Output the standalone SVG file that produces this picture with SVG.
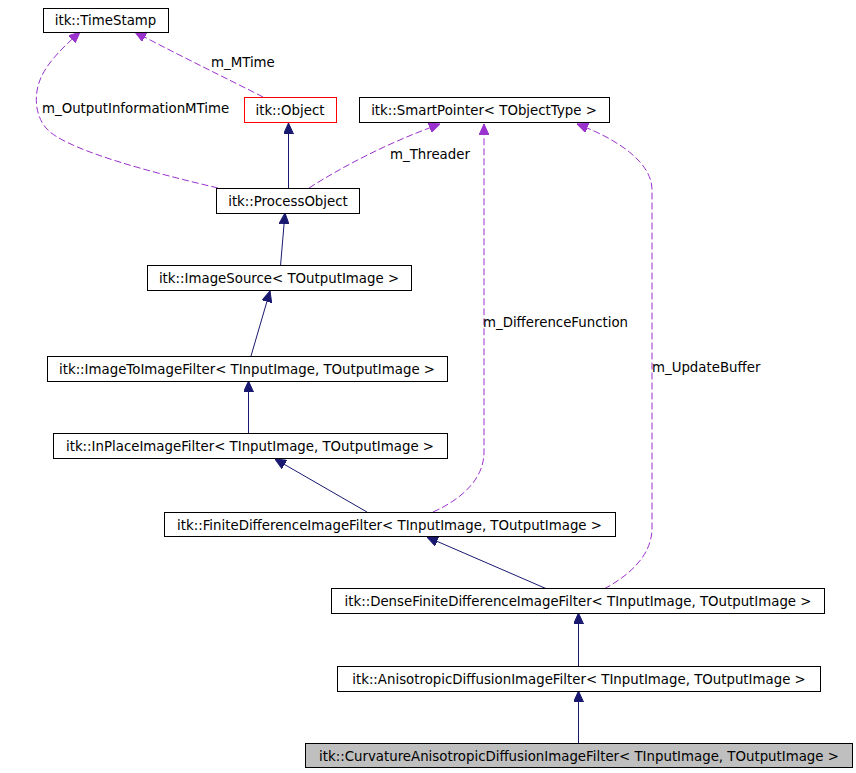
<svg xmlns="http://www.w3.org/2000/svg" width="856" height="773" viewBox="0 0 856 773">
<style>
.n rect{fill:#ffffff;stroke:#000000;stroke-width:1}
text{font-family:"DejaVu Sans","Liberation Sans",sans-serif;font-size:13.33px;fill:#000000}
.n text{text-anchor:middle}
.inh{fill:none;stroke:#191970;stroke-width:1;marker-end:url(#an)}
.use{fill:none;stroke:#9a32cd;stroke-width:1;stroke-dasharray:7,3;marker-end:url(#ap)}
</style>
<defs>
<marker id="an" markerUnits="userSpaceOnUse" markerWidth="11" markerHeight="10" refX="11" refY="5" orient="auto"><path d="M0,0 L11,5 L0,10 z" fill="#191970" stroke="#191970" stroke-width="1"/></marker>
<marker id="ap" markerUnits="userSpaceOnUse" markerWidth="11" markerHeight="10" refX="11" refY="5" orient="auto"><path d="M0,0 L11,5 L0,10 z" fill="#9a32cd" stroke="#9a32cd" stroke-width="1"/></marker>
</defs>
<rect width="856" height="773" fill="#ffffff"/>
<g id="connectors">
<path class="inh" d="M288.5,188 L288.5,123"/>
<path class="inh" d="M280.5,266 L285,213"/>
<path class="inh" d="M251,356 L270,291"/>
<path class="inh" d="M248.5,433 L248.5,381"/>
<path class="inh" d="M367,512 L275,459"/>
<path class="inh" d="M547,589 L427,537"/>
<path class="inh" d="M578.5,666 L578.5,613"/>
<path class="inh" d="M578.5,743 L578.5,691"/>
<path class="use" d="M263,97 C230,80 180,56 135,32"/>
<path class="use" d="M218,188 C150,172 75,152 50,132 C34,118 34,95 40,80 C46,64 62,48 80,32"/>
<path class="use" d="M309,188 C345,165 390,142 440,124"/>
<path class="use" d="M433,512 C460,500 484,480 484,452 L484,124"/>
<path class="use" d="M604,589 C630,575 652,555 652,528 L652,190 C652,160 612,137 577,124"/>
<text x="211" y="67">m_MTime</text>
<text x="42" y="113">m_OutputInformationMTime</text>
<text x="390" y="159">m_Threader</text>
<text x="483" y="327">m_DifferenceFunction</text>
<text x="652" y="372">m_UpdateBuffer</text>
</g>
<g id="TimeStamp" class="n"><rect x="43.5" y="8.5" width="125" height="24"/><text x="105.5" y="25">itk::TimeStamp</text></g>
<g id="Object" class="n"><rect x="244.5" y="97.5" width="92" height="25" style="stroke:#ff0000"/><text x="290" y="115">itk::Object</text></g>
<g id="SmartPointer" class="n"><rect x="359.5" y="97.5" width="250" height="25"/><text x="484" y="115">itk::SmartPointer&lt; TObjectType &gt;</text></g>
<g id="ProcessObject" class="n"><rect x="216.5" y="188.5" width="143" height="25"/><text x="288" y="205.5">itk::ProcessObject</text></g>
<g id="ImageSource" class="n"><rect x="147.5" y="265.5" width="264" height="25"/><text x="279" y="283">itk::ImageSource&lt; TOutputImage &gt;</text></g>
<g id="ImageToImageFilter" class="n"><rect x="47.5" y="356.5" width="400" height="25"/><text x="247" y="374">itk::ImageToImageFilter&lt; TInputImage, TOutputImage &gt;</text></g>
<g id="InPlaceImageFilter" class="n"><rect x="53.5" y="433.5" width="394" height="25"/><text x="250" y="451">itk::InPlaceImageFilter&lt; TInputImage, TOutputImage &gt;</text></g>
<g id="FiniteDifferenceImageFilter" class="n"><rect x="164.5" y="512.5" width="451" height="24"/><text x="389.5" y="529.5">itk::FiniteDifferenceImageFilter&lt; TInputImage, TOutputImage &gt;</text></g>
<g id="DenseFiniteDifferenceImageFilter" class="n"><rect x="331.5" y="588.5" width="493" height="25"/><text x="578" y="606">itk::DenseFiniteDifferenceImageFilter&lt; TInputImage, TOutputImage &gt;</text></g>
<g id="AnisotropicDiffusionImageFilter" class="n"><rect x="337.5" y="666.5" width="483" height="25"/><text x="579" y="684">itk::AnisotropicDiffusionImageFilter&lt; TInputImage, TOutputImage &gt;</text></g>
<g id="CurvatureAnisotropicDiffusionImageFilter" class="n"><rect x="305.5" y="743.5" width="547" height="24" style="fill:#bfbfbf"/><text x="579" y="760.5">itk::CurvatureAnisotropicDiffusionImageFilter&lt; TInputImage, TOutputImage &gt;</text></g>
</svg>
